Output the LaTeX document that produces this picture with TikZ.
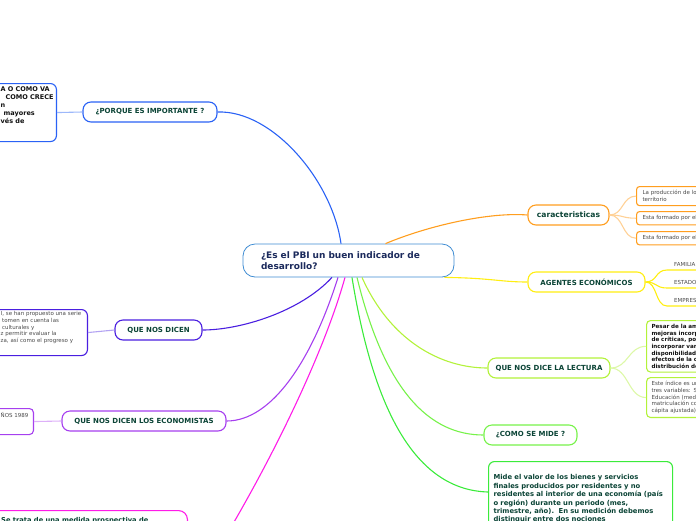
\documentclass[tikz,border=0pt]{standalone}
\usepackage{fontspec}
\setmainfont{DejaVu Sans}
\usetikzlibrary{calc}
\definecolor{lblgreen}{HTML}{0B4436}
\definecolor{navy}{HTML}{1B2A5C}
\definecolor{cblue}{HTML}{2A62F5}
\definecolor{cblueL}{HTML}{9DB8FA}
\definecolor{cindigo}{HTML}{4A1FE0}
\definecolor{cindigoL}{HTML}{B3A3F2}
\definecolor{cpurple}{HTML}{A63FEF}
\definecolor{cpurpleL}{HTML}{DDB0F8}
\definecolor{cmagenta}{HTML}{FF1BE8}
\definecolor{corange}{HTML}{FF9E1F}
\definecolor{corangeL}{HTML}{FFD196}
\definecolor{cyellow}{HTML}{FFEE11}
\definecolor{cyellowL}{HTML}{FFF27A}
\definecolor{clime}{HTML}{B3F23A}
\definecolor{climeL}{HTML}{DDF8A8}
\definecolor{cgreen}{HTML}{77F24A}
\definecolor{cbright}{HTML}{3BEB3B}
\definecolor{ccenter}{HTML}{3F8CD3}
\definecolor{graytxt}{HTML}{4A4A4A}
\definecolor{blacktxt}{HTML}{111111}
\begin{document}
\begin{tikzpicture}[x=1pt,y=-1pt,
  lbl/.style={draw, line width=1.1pt, rounded corners=8pt, fill=white, text=lblgreen,
    font=\bfseries\fontsize{7}{8}\selectfont, minimum height=20pt, inner sep=0pt},
  box/.style={draw, line width=1.1pt, rounded corners=5pt, fill=white, inner sep=0pt},
  small/.style={text=graytxt, font=\fontsize{5.5}{6.6}\selectfont, align=left, inner sep=0pt},
  boldsmall/.style={text=blacktxt, font=\bfseries\fontsize{5.6}{6.7}\selectfont, align=left, inner sep=0pt},
  conn/.style={line width=1.1pt},
  sub/.style={line width=1.1pt}]
\useasboundingbox (0,0) rectangle (696,520);
\clip (0,0) rectangle (696,520);

\node[draw=ccenter, line width=0.8pt, rounded corners=12pt, fill=white, minimum width=211pt,
  minimum height=33pt, inner xsep=18pt, inner ysep=0pt, text width=175pt, align=left, text=navy,
  font=\bfseries\fontsize{9}{11}\selectfont] (c) at (348.5,260.5)
  {¿Es el PBI un buen indicador de\\desarrollo?};

\node[lbl, draw=cblue, minimum width=134pt] (porque) at (150,112) {¿PORQUE ES IMPORTANTE ?};
\node[lbl, draw=cindigo, minimum width=87pt] (dicen) at (158.5,330) {QUE NOS DICEN};
\node[lbl, draw=cpurple, minimum width=164pt] (econ) at (144,421) {QUE NOS DICEN LOS ECONOMISTAS};
\node[lbl, draw=corange, minimum width=81pt, font=\bfseries\fontsize{7.6}{9}\selectfont] (caract) at (568.5,215) {caracteristicas};
\node[lbl, draw=cyellow, minimum width=117pt] (agentes) at (586.5,282) {AGENTES ECONÓMICOS};
\node[lbl, draw=clime, minimum width=122pt] (lectura) at (549,368) {QUE NOS DICE LA LECTURA};
\node[lbl, draw=cgreen, minimum width=93pt] (mide) at (530.5,435) {¿COMO SE MIDE ?};
\coordinate (offmag) at (205,570);

\draw[conn, cblue] ($(c.north)+(-7.5,0)$) .. controls (332,180) and (272,110) .. (porque.east);
\draw[conn, cindigo] ($(c.south)+(-16.5,0)$) .. controls (300,312) and (240,330) .. (dicen.east);
\draw[conn, cpurple] ($(c.south)+(-10.5,0)$) .. controls (312,360) and (272,421) .. (econ.east);
\draw[conn, cmagenta] ($(c.south)+(-3.5,0)$) .. controls (322,360) and (262,480) .. (offmag);
\draw[conn, corange] ($(c.north)+(37,0)$) .. controls (430,225) and (490,212) .. (caract.west);
\draw[conn, cyellow] ($(c.south east)+(-10,0)$) .. controls (492,278) and (500,282) .. (agentes.west);
\draw[conn, clime] ($(c.south)+(13.5,0)$) .. controls (390,340) and (440,368) .. (lectura.west);
\draw[conn, cgreen] ($(c.south)+(8.5,0)$) .. controls (385,392) and (430,435) .. (mide.west);

% ---------- left boxes ----------
\node[box, draw=cblue, rounded corners=6pt, minimum width=80pt, minimum height=58pt, anchor=north east] (b1) at (57,83) {};
\node[anchor=north west, inner sep=0pt, text width=60pt, align=left, text=blacktxt, font=\bfseries\fontsize{6.5}{8}\selectfont] (b1t) at (0.5,86.5)
  {A O COMO VA\\\hspace*{5pt}COMO CRECE\\n\\\hspace*{3pt}mayores\\vés de};
\draw[sub, cblueL] (b1.east) -- (porque.west);

\node[box, draw=cindigo, rounded corners=6pt, minimum width=110pt, minimum height=46pt, anchor=north east] (b2) at (88,309) {};
\node[small, anchor=north west, text width=92pt] (b2t) at (0.5,311.5)
  {I, se han propuesto una serie\\\hspace*{1.5pt}tomen en cuenta las\\\hspace*{1.5pt}culturales y\\z permitir evaluar la\\za, así como el progreso y};
\draw[sub, cindigoL] (b2.east) -- (dicen.west);

\node[box, draw=cpurple, rounded corners=4pt, minimum width=50pt, minimum height=26pt, anchor=north east] (b3) at (34,408) {};
\node[small, anchor=north west] (b3t) at (0.5,412) {ÑOS 1989};
\draw[sub, cpurpleL] (b3.east) -- (econ.west);

\node[box, draw=cmagenta, rounded corners=9pt, minimum width=200pt, minimum height=40pt, anchor=north east] (b4) at (188,510) {};
\node[anchor=base west, inner sep=0pt, text=lblgreen, font=\bfseries\fontsize{6.7}{8.4}\selectfont] (b4t) at (1,522.5)
  {Se trata de una medida prospectiva de};

% ---------- big green box ----------
\node[box, draw=cbright, rounded corners=6pt, anchor=north west, inner xsep=5pt, inner ysep=6pt,
  minimum height=75pt, text width=174pt, align=left, text=lblgreen, font=\bfseries\fontsize{6.8}{8.4}\selectfont] (mb) at (488,461)
  {Mide el valor de los bienes y servicios\\finales producidos por residentes y no\\residentes al interior de una economía (país\\o región) durante un periodo (mes,\\trimestre, año).\ \ En su medición debemos\\distinguir entre dos nociones};
\draw[conn, cbright] ($(c.south)+(3.5,0)$) .. controls (375,420) and (420,490) .. ($(mb.north west)+(0,31)$);

% ---------- caracteristicas children ----------
\node[box, draw=corange, rounded corners=3pt, anchor=north west, text width=70pt,
  small, inner xsep=6pt, inner ysep=4pt] (k1) at (636,186) {La producción de los\\territorio};
\node[box, draw=corange, rounded corners=3pt, anchor=north west, text width=70pt,
  small, inner xsep=6pt, inner ysep=4pt] (k2) at (636,211) {Esta formado por el};
\node[box, draw=corange, rounded corners=3pt, anchor=north west, text width=70pt,
  small, inner xsep=6pt, inner ysep=4pt] (k3) at (636,231) {Esta formado por el};
\foreach \k in {k1,k2,k3}
  \draw[sub, corangeL] (caract.east) .. controls +(14,0) and +(-14,0) .. (\k.west);

% ---------- agentes children ----------
\node[small, inner xsep=7pt, inner ysep=3pt, anchor=south west] (fa) at (667,270) {FAMILIA};
\node[small, inner xsep=7pt, inner ysep=3pt, anchor=south west] (es) at (667,288) {ESTADO};
\node[small, inner xsep=7pt, inner ysep=3pt, anchor=south west] (em) at (667,306) {EMPRES};
\foreach \k in {fa,es,em}
  \draw[sub, cyellow] (agentes.east) .. controls +(12,0) and +(-12,0) .. (\k.south west) -- ++(40,0);

% ---------- lectura children ----------
\node[box, draw=clime, rounded corners=4pt, anchor=north west, text width=70pt,
  boldsmall, inner xsep=5pt, inner ysep=3.5pt] (l1) at (646,320)
  {Pesar de la am\\mejoras incorp\\de críticas, por\\incorporar var\\disponibilidad\\efectos de la c\\distribución de};
\node[box, draw=clime, rounded corners=4pt, anchor=north west, text width=70pt,
  small, inner xsep=5pt, inner ysep=4pt] (l2) at (646,377)
  {Este índice es un\\tres variables: S\\Educación (medi\\matriculación co\\cápita ajustada)};
\foreach \k in {l1,l2}
  \draw[sub, climeL] (lectura.east) .. controls +(18,0) and +(-18,0) .. (\k.west);
\end{tikzpicture}
\end{document}
